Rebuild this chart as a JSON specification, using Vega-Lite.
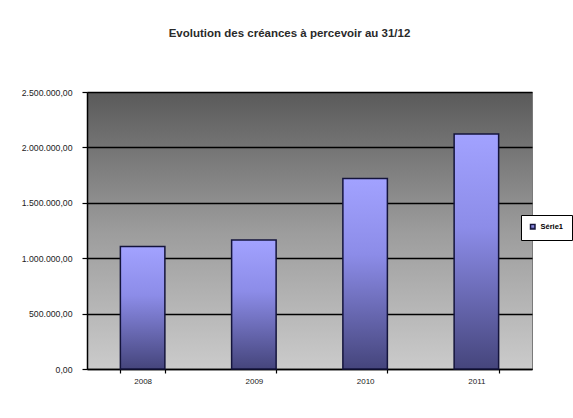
{
  "$schema": "https://vega.github.io/schema/vega-lite/v6.json",
  "autosize": "none",
  "width": 445,
  "height": 277,
  "padding": {"left": 87, "top": 92, "right": 41, "bottom": 49},
  "background": "white",
  "title": {
    "text": "Evolution des créances  à percevoir au 31/12",
    "fontSize": 11.5,
    "fontWeight": "bold",
    "font": "Liberation Sans",
    "color": "#2a2a2a",
    "offset": 49,
    "dx": -20
  },
  "data": {
    "values": [
      {"annee": "2008", "montant": 1105000, "serie": "Série1"},
      {"annee": "2009", "montant": 1165000, "serie": "Série1"},
      {"annee": "2010", "montant": 1720000, "serie": "Série1"},
      {"annee": "2011", "montant": 2120000, "serie": "Série1"}
    ]
  },
  "mark": {
    "type": "bar",
    "strokeWidth": 1.5,
    "fill": {
      "gradient": "linear",
      "x1": 0, "y1": 0, "x2": 0, "y2": 1,
      "stops": [
        {"offset": 0, "color": "#a2a2ff"},
        {"offset": 0.4, "color": "#8c8ce8"},
        {"offset": 1, "color": "#45457c"}
      ]
    }
  },
  "encoding": {
    "x": {
      "field": "annee",
      "type": "ordinal",
      "scale": {"paddingInner": 0.6, "paddingOuter": 0.3},
      "axis": {
        "title": null,
        "labelAngle": 0,
        "tickBand": "extent",
        "tickSize": 4,
        "labelPadding": 4
      }
    },
    "y": {
      "field": "montant",
      "type": "quantitative",
      "scale": {"domain": [0, 2500000], "nice": false},
      "axis": {
        "title": null,
        "values": [0, 500000, 1000000, 1500000, 2000000, 2500000],
        "format": ",.2f",
        "grid": true,
        "tickSize": 5,
        "labelPadding": 10,
        "labelFontSize": 8.7
      }
    },
    "stroke": {
      "field": "serie",
      "type": "nominal",
      "scale": {"range": ["#14143c"]},
      "legend": {
        "title": null,
        "orient": "none",
        "legendX": 434,
        "legendY": 123,
        "strokeColor": "black",
        "fillColor": "white",
        "padding": 8,
        "labelFontSize": 7.5,
        "labelFontWeight": "bold",
        "symbolType": "square",
        "symbolSize": 20,
        "symbolFillColor": "#6a6ab0",
        "symbolStrokeColor": "#14143c"
      }
    }
  },
  "config": {
    "locale": {
      "number": {"decimal": ",", "thousands": ".", "grouping": [3], "currency": ["", " €"]}
    },
    "font": "Liberation Sans",
    "view": {
      "stroke": "#7a7a7a",
      "strokeWidth": 1,
      "fill": {
        "gradient": "linear",
        "x1": 0, "y1": 0, "x2": 0, "y2": 1,
        "stops": [
          {"offset": 0, "color": "#5a5a5a"},
          {"offset": 0.5, "color": "#9c9c9c"},
          {"offset": 1, "color": "#cbcbcb"}
        ]
      }
    },
    "axis": {
      "labelFontSize": 8,
      "labelColor": "#222222",
      "domainColor": "black",
      "domainWidth": 1.5,
      "tickColor": "black",
      "tickWidth": 1.2,
      "gridColor": "black",
      "gridWidth": 1.5,
      "gridOpacity": 1
    }
  }
}
